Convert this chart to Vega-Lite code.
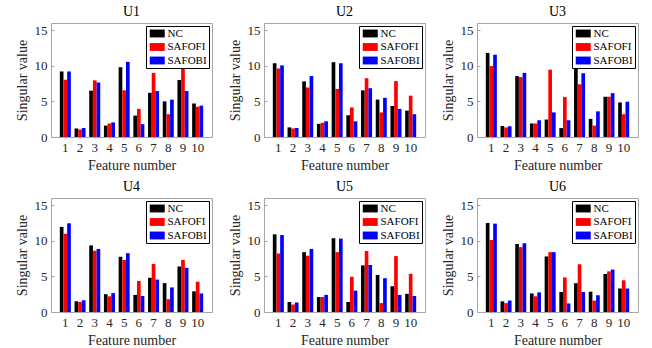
{
  "$schema": "https://vega.github.io/schema/vega-lite/v6.json",
  "padding": {"left": 14, "top": 4, "right": 5, "bottom": 3},
  "background": "white",
  "bounds": "flush",
  "spacing": {"row": 61, "column": 52},
  "columns": 3,
  "data": {"values": [
    {"panel":"U1","feature":1,"series":"NC","value":9.2},{"panel":"U1","feature":1,"series":"SAFOFI","value":8.05},{"panel":"U1","feature":1,"series":"SAFOBI","value":9.2},
    {"panel":"U1","feature":2,"series":"NC","value":1.2},{"panel":"U1","feature":2,"series":"SAFOFI","value":1.05},{"panel":"U1","feature":2,"series":"SAFOBI","value":1.25},
    {"panel":"U1","feature":3,"series":"NC","value":6.5},{"panel":"U1","feature":3,"series":"SAFOFI","value":7.95},{"panel":"U1","feature":3,"series":"SAFOBI","value":7.65},
    {"panel":"U1","feature":4,"series":"NC","value":1.6},{"panel":"U1","feature":4,"series":"SAFOFI","value":1.9},{"panel":"U1","feature":4,"series":"SAFOBI","value":2.05},
    {"panel":"U1","feature":5,"series":"NC","value":9.8},{"panel":"U1","feature":5,"series":"SAFOFI","value":6.55},{"panel":"U1","feature":5,"series":"SAFOBI","value":10.55},
    {"panel":"U1","feature":6,"series":"NC","value":3.0},{"panel":"U1","feature":6,"series":"SAFOFI","value":3.95},{"panel":"U1","feature":6,"series":"SAFOBI","value":1.8},
    {"panel":"U1","feature":7,"series":"NC","value":6.2},{"panel":"U1","feature":7,"series":"SAFOFI","value":9.0},{"panel":"U1","feature":7,"series":"SAFOBI","value":6.45},
    {"panel":"U1","feature":8,"series":"NC","value":5.0},{"panel":"U1","feature":8,"series":"SAFOFI","value":3.2},{"panel":"U1","feature":8,"series":"SAFOBI","value":5.25},
    {"panel":"U1","feature":9,"series":"NC","value":8.0},{"panel":"U1","feature":9,"series":"SAFOFI","value":9.55},{"panel":"U1","feature":9,"series":"SAFOBI","value":6.45},
    {"panel":"U1","feature":10,"series":"NC","value":4.7},{"panel":"U1","feature":10,"series":"SAFOFI","value":4.25},{"panel":"U1","feature":10,"series":"SAFOBI","value":4.4},
    {"panel":"U2","feature":1,"series":"NC","value":10.35},{"panel":"U2","feature":1,"series":"SAFOFI","value":9.6},{"panel":"U2","feature":1,"series":"SAFOBI","value":10.05},
    {"panel":"U2","feature":2,"series":"NC","value":1.35},{"panel":"U2","feature":2,"series":"SAFOFI","value":1.2},{"panel":"U2","feature":2,"series":"SAFOBI","value":1.25},
    {"panel":"U2","feature":3,"series":"NC","value":7.8},{"panel":"U2","feature":3,"series":"SAFOFI","value":6.95},{"panel":"U2","feature":3,"series":"SAFOBI","value":8.55},
    {"panel":"U2","feature":4,"series":"NC","value":1.85},{"panel":"U2","feature":4,"series":"SAFOFI","value":2.0},{"panel":"U2","feature":4,"series":"SAFOBI","value":2.2},
    {"panel":"U2","feature":5,"series":"NC","value":10.5},{"panel":"U2","feature":5,"series":"SAFOFI","value":6.75},{"panel":"U2","feature":5,"series":"SAFOBI","value":10.35},
    {"panel":"U2","feature":6,"series":"NC","value":3.05},{"panel":"U2","feature":6,"series":"SAFOFI","value":4.15},{"panel":"U2","feature":6,"series":"SAFOBI","value":2.2},
    {"panel":"U2","feature":7,"series":"NC","value":6.55},{"panel":"U2","feature":7,"series":"SAFOFI","value":8.25},{"panel":"U2","feature":7,"series":"SAFOBI","value":6.85},
    {"panel":"U2","feature":8,"series":"NC","value":5.25},{"panel":"U2","feature":8,"series":"SAFOFI","value":3.45},{"panel":"U2","feature":8,"series":"SAFOBI","value":5.5},
    {"panel":"U2","feature":9,"series":"NC","value":4.35},{"panel":"U2","feature":9,"series":"SAFOFI","value":7.85},{"panel":"U2","feature":9,"series":"SAFOBI","value":3.95},
    {"panel":"U2","feature":10,"series":"NC","value":3.7},{"panel":"U2","feature":10,"series":"SAFOFI","value":5.8},{"panel":"U2","feature":10,"series":"SAFOBI","value":3.2},
    {"panel":"U3","feature":1,"series":"NC","value":11.8},{"panel":"U3","feature":1,"series":"SAFOFI","value":9.95},{"panel":"U3","feature":1,"series":"SAFOBI","value":11.55},
    {"panel":"U3","feature":2,"series":"NC","value":1.55},{"panel":"U3","feature":2,"series":"SAFOFI","value":1.35},{"panel":"U3","feature":2,"series":"SAFOBI","value":1.5},
    {"panel":"U3","feature":3,"series":"NC","value":8.55},{"panel":"U3","feature":3,"series":"SAFOFI","value":8.4},{"panel":"U3","feature":3,"series":"SAFOBI","value":9.0},
    {"panel":"U3","feature":4,"series":"NC","value":1.9},{"panel":"U3","feature":4,"series":"SAFOFI","value":1.9},{"panel":"U3","feature":4,"series":"SAFOBI","value":2.35},
    {"panel":"U3","feature":5,"series":"NC","value":2.45},{"panel":"U3","feature":5,"series":"SAFOFI","value":9.45},{"panel":"U3","feature":5,"series":"SAFOBI","value":3.45},
    {"panel":"U3","feature":6,"series":"NC","value":1.25},{"panel":"U3","feature":6,"series":"SAFOFI","value":5.6},{"panel":"U3","feature":6,"series":"SAFOBI","value":2.35},
    {"panel":"U3","feature":7,"series":"NC","value":10.3},{"panel":"U3","feature":7,"series":"SAFOFI","value":7.4},{"panel":"U3","feature":7,"series":"SAFOBI","value":8.95},
    {"panel":"U3","feature":8,"series":"NC","value":2.55},{"panel":"U3","feature":8,"series":"SAFOFI","value":1.6},{"panel":"U3","feature":8,"series":"SAFOBI","value":3.6},
    {"panel":"U3","feature":9,"series":"NC","value":5.65},{"panel":"U3","feature":9,"series":"SAFOFI","value":5.65},{"panel":"U3","feature":9,"series":"SAFOBI","value":6.15},
    {"panel":"U3","feature":10,"series":"NC","value":4.85},{"panel":"U3","feature":10,"series":"SAFOFI","value":3.2},{"panel":"U3","feature":10,"series":"SAFOBI","value":4.95},
    {"panel":"U4","feature":1,"series":"NC","value":11.95},{"panel":"U4","feature":1,"series":"SAFOFI","value":11.0},{"panel":"U4","feature":1,"series":"SAFOBI","value":12.45},
    {"panel":"U4","feature":2,"series":"NC","value":1.5},{"panel":"U4","feature":2,"series":"SAFOFI","value":1.4},{"panel":"U4","feature":2,"series":"SAFOBI","value":1.65},
    {"panel":"U4","feature":3,"series":"NC","value":9.35},{"panel":"U4","feature":3,"series":"SAFOFI","value":8.6},{"panel":"U4","feature":3,"series":"SAFOBI","value":8.85},
    {"panel":"U4","feature":4,"series":"NC","value":2.5},{"panel":"U4","feature":4,"series":"SAFOFI","value":2.2},{"panel":"U4","feature":4,"series":"SAFOBI","value":2.65},
    {"panel":"U4","feature":5,"series":"NC","value":7.75},{"panel":"U4","feature":5,"series":"SAFOFI","value":7.3},{"panel":"U4","feature":5,"series":"SAFOBI","value":8.25},
    {"panel":"U4","feature":6,"series":"NC","value":2.4},{"panel":"U4","feature":6,"series":"SAFOFI","value":4.35},{"panel":"U4","feature":6,"series":"SAFOBI","value":2.25},
    {"panel":"U4","feature":7,"series":"NC","value":4.8},{"panel":"U4","feature":7,"series":"SAFOFI","value":6.75},{"panel":"U4","feature":7,"series":"SAFOBI","value":4.55},
    {"panel":"U4","feature":8,"series":"NC","value":4.05},{"panel":"U4","feature":8,"series":"SAFOFI","value":1.8},{"panel":"U4","feature":8,"series":"SAFOBI","value":3.45},
    {"panel":"U4","feature":9,"series":"NC","value":6.4},{"panel":"U4","feature":9,"series":"SAFOFI","value":7.3},{"panel":"U4","feature":9,"series":"SAFOBI","value":6.2},
    {"panel":"U4","feature":10,"series":"NC","value":2.9},{"panel":"U4","feature":10,"series":"SAFOFI","value":4.25},{"panel":"U4","feature":10,"series":"SAFOBI","value":2.6},
    {"panel":"U5","feature":1,"series":"NC","value":10.9},{"panel":"U5","feature":1,"series":"SAFOFI","value":8.2},{"panel":"U5","feature":1,"series":"SAFOBI","value":10.8},
    {"panel":"U5","feature":2,"series":"NC","value":1.4},{"panel":"U5","feature":2,"series":"SAFOFI","value":1.05},{"panel":"U5","feature":2,"series":"SAFOBI","value":1.35},
    {"panel":"U5","feature":3,"series":"NC","value":8.4},{"panel":"U5","feature":3,"series":"SAFOFI","value":7.9},{"panel":"U5","feature":3,"series":"SAFOBI","value":8.85},
    {"panel":"U5","feature":4,"series":"NC","value":2.1},{"panel":"U5","feature":4,"series":"SAFOFI","value":2.1},{"panel":"U5","feature":4,"series":"SAFOBI","value":2.4},
    {"panel":"U5","feature":5,"series":"NC","value":10.35},{"panel":"U5","feature":5,"series":"SAFOFI","value":8.4},{"panel":"U5","feature":5,"series":"SAFOBI","value":10.3},
    {"panel":"U5","feature":6,"series":"NC","value":1.4},{"panel":"U5","feature":6,"series":"SAFOFI","value":4.95},{"panel":"U5","feature":6,"series":"SAFOBI","value":3.0},
    {"panel":"U5","feature":7,"series":"NC","value":6.55},{"panel":"U5","feature":7,"series":"SAFOFI","value":8.55},{"panel":"U5","feature":7,"series":"SAFOBI","value":6.6},
    {"panel":"U5","feature":8,"series":"NC","value":5.2},{"panel":"U5","feature":8,"series":"SAFOFI","value":1.25},{"panel":"U5","feature":8,"series":"SAFOBI","value":4.75},
    {"panel":"U5","feature":9,"series":"NC","value":3.6},{"panel":"U5","feature":9,"series":"SAFOFI","value":7.85},{"panel":"U5","feature":9,"series":"SAFOBI","value":2.4},
    {"panel":"U5","feature":10,"series":"NC","value":2.55},{"panel":"U5","feature":10,"series":"SAFOFI","value":5.35},{"panel":"U5","feature":10,"series":"SAFOBI","value":2.25},
    {"panel":"U6","feature":1,"series":"NC","value":12.5},{"panel":"U6","feature":1,"series":"SAFOFI","value":10.1},{"panel":"U6","feature":1,"series":"SAFOBI","value":12.4},
    {"panel":"U6","feature":2,"series":"NC","value":1.5},{"panel":"U6","feature":2,"series":"SAFOFI","value":1.25},{"panel":"U6","feature":2,"series":"SAFOBI","value":1.6},
    {"panel":"U6","feature":3,"series":"NC","value":9.55},{"panel":"U6","feature":3,"series":"SAFOFI","value":9.1},{"panel":"U6","feature":3,"series":"SAFOBI","value":9.65},
    {"panel":"U6","feature":4,"series":"NC","value":2.6},{"panel":"U6","feature":4,"series":"SAFOFI","value":2.2},{"panel":"U6","feature":4,"series":"SAFOBI","value":2.75},
    {"panel":"U6","feature":5,"series":"NC","value":7.8},{"panel":"U6","feature":5,"series":"SAFOFI","value":8.4},{"panel":"U6","feature":5,"series":"SAFOBI","value":8.4},
    {"panel":"U6","feature":6,"series":"NC","value":2.8},{"panel":"U6","feature":6,"series":"SAFOFI","value":4.85},{"panel":"U6","feature":6,"series":"SAFOBI","value":1.2},
    {"panel":"U6","feature":7,"series":"NC","value":4.05},{"panel":"U6","feature":7,"series":"SAFOFI","value":6.7},{"panel":"U6","feature":7,"series":"SAFOBI","value":2.8},
    {"panel":"U6","feature":8,"series":"NC","value":2.85},{"panel":"U6","feature":8,"series":"SAFOFI","value":1.6},{"panel":"U6","feature":8,"series":"SAFOBI","value":2.35},
    {"panel":"U6","feature":9,"series":"NC","value":5.35},{"panel":"U6","feature":9,"series":"SAFOFI","value":5.7},{"panel":"U6","feature":9,"series":"SAFOBI","value":5.95},
    {"panel":"U6","feature":10,"series":"NC","value":3.3},{"panel":"U6","feature":10,"series":"SAFOFI","value":4.45},{"panel":"U6","feature":10,"series":"SAFOBI","value":3.3}
  ]},
  "concat": [
    {"title": "U1", "transform": [{"filter": "datum.panel === 'U1'"}], "width": 161, "height": 114, "mark": "bar",
     "encoding": {"x": {"field": "feature", "type": "ordinal", "title": "Feature number", "scale": {"paddingInner": 0.25, "paddingOuter": 0.6}},
       "xOffset": {"field": "series", "scale": {"domain": ["NC","SAFOFI","SAFOBI"]}},
       "y": {"field": "value", "type": "quantitative", "title": "Singular value", "scale": {"domain": [0,16], "nice": false}, "axis": {"values": [0,5,10,15]}},
       "color": {"field": "series", "scale": {"domain": ["NC","SAFOFI","SAFOBI"], "range": ["#000000","#ff0000","#0000ff"]}}}},
    {"title": "U2", "transform": [{"filter": "datum.panel === 'U2'"}], "width": 161, "height": 114, "mark": "bar",
     "encoding": {"x": {"field": "feature", "type": "ordinal", "title": "Feature number", "scale": {"paddingInner": 0.25, "paddingOuter": 0.6}},
       "xOffset": {"field": "series", "scale": {"domain": ["NC","SAFOFI","SAFOBI"]}},
       "y": {"field": "value", "type": "quantitative", "title": "Singular value", "scale": {"domain": [0,16], "nice": false}, "axis": {"values": [0,5,10,15]}},
       "color": {"field": "series", "scale": {"domain": ["NC","SAFOFI","SAFOBI"], "range": ["#000000","#ff0000","#0000ff"]}}}},
    {"title": "U3", "transform": [{"filter": "datum.panel === 'U3'"}], "width": 161, "height": 114, "mark": "bar",
     "encoding": {"x": {"field": "feature", "type": "ordinal", "title": "Feature number", "scale": {"paddingInner": 0.25, "paddingOuter": 0.6}},
       "xOffset": {"field": "series", "scale": {"domain": ["NC","SAFOFI","SAFOBI"]}},
       "y": {"field": "value", "type": "quantitative", "title": "Singular value", "scale": {"domain": [0,16], "nice": false}, "axis": {"values": [0,5,10,15]}},
       "color": {"field": "series", "scale": {"domain": ["NC","SAFOFI","SAFOBI"], "range": ["#000000","#ff0000","#0000ff"]}}}},
    {"title": "U4", "transform": [{"filter": "datum.panel === 'U4'"}], "width": 161, "height": 114, "mark": "bar",
     "encoding": {"x": {"field": "feature", "type": "ordinal", "title": "Feature number", "scale": {"paddingInner": 0.25, "paddingOuter": 0.6}},
       "xOffset": {"field": "series", "scale": {"domain": ["NC","SAFOFI","SAFOBI"]}},
       "y": {"field": "value", "type": "quantitative", "title": "Singular value", "scale": {"domain": [0,16], "nice": false}, "axis": {"values": [0,5,10,15]}},
       "color": {"field": "series", "scale": {"domain": ["NC","SAFOFI","SAFOBI"], "range": ["#000000","#ff0000","#0000ff"]}}}},
    {"title": "U5", "transform": [{"filter": "datum.panel === 'U5'"}], "width": 161, "height": 114, "mark": "bar",
     "encoding": {"x": {"field": "feature", "type": "ordinal", "title": "Feature number", "scale": {"paddingInner": 0.25, "paddingOuter": 0.6}},
       "xOffset": {"field": "series", "scale": {"domain": ["NC","SAFOFI","SAFOBI"]}},
       "y": {"field": "value", "type": "quantitative", "title": "Singular value", "scale": {"domain": [0,16], "nice": false}, "axis": {"values": [0,5,10,15]}},
       "color": {"field": "series", "scale": {"domain": ["NC","SAFOFI","SAFOBI"], "range": ["#000000","#ff0000","#0000ff"]}}}},
    {"title": "U6", "transform": [{"filter": "datum.panel === 'U6'"}], "width": 161, "height": 114, "mark": "bar",
     "encoding": {"x": {"field": "feature", "type": "ordinal", "title": "Feature number", "scale": {"paddingInner": 0.25, "paddingOuter": 0.6}},
       "xOffset": {"field": "series", "scale": {"domain": ["NC","SAFOFI","SAFOBI"]}},
       "y": {"field": "value", "type": "quantitative", "title": "Singular value", "scale": {"domain": [0,16], "nice": false}, "axis": {"values": [0,5,10,15]}},
       "color": {"field": "series", "scale": {"domain": ["NC","SAFOFI","SAFOBI"], "range": ["#000000","#ff0000","#0000ff"]}}}}
  ],
  "resolve": {"scale": {"color": "independent"}, "legend": {"color": "independent"}},
  "config": {
    "font": "Liberation Serif, Times New Roman, serif",
    "view": {"stroke": "#a6a6a6", "strokeWidth": 1},
    "title": {"font": "Liberation Serif, Times New Roman, serif", "fontSize": 14, "fontWeight": "normal", "color": "#000000", "offset": 4, "anchor": "middle"},
    "axis": {"labelFont": "Liberation Serif, Times New Roman, serif", "titleFont": "Liberation Serif, Times New Roman, serif", "labelFontSize": 13, "titleFontSize": 14, "titleFontWeight": "normal", "labelColor": "#262626", "titleColor": "#262626", "domain": false, "ticks": true, "tickSize": -3, "tickColor": "#a6a6a6", "grid": false, "labelPadding": 7, "titlePadding": 4},
    "axisX": {"labelAngle": 0},
    "axisY": {"titlePadding": 5},
    "legend": {"orient": "top-right", "offset": 3, "title": null, "strokeColor": "#000000", "fillColor": "#ffffff", "padding": 2, "labelFont": "Liberation Serif, Times New Roman, serif", "labelFontSize": 11, "labelColor": "#000000", "symbolType": "M-1,-1.05H3V1.05H-1Z", "symbolSize": 56, "symbolStrokeWidth": 0, "symbolOpacity": 1, "rowPadding": 1.5, "labelOffset": 8.5, "cornerRadius": 0}
  }
}
